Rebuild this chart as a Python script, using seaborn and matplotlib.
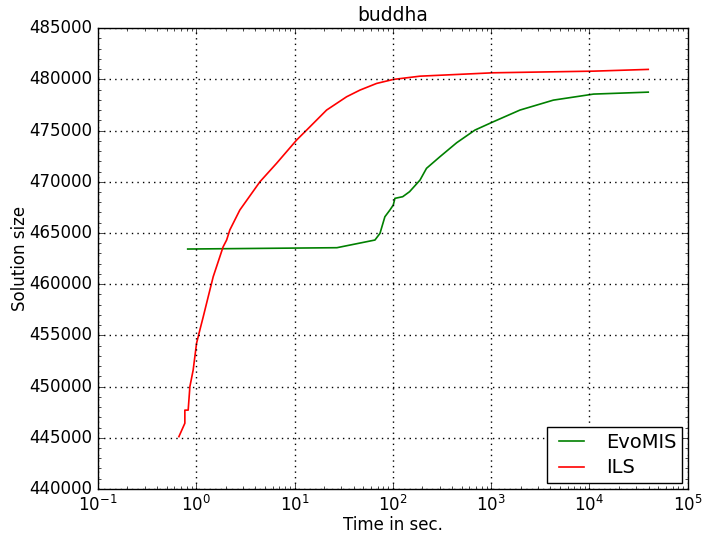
import matplotlib
matplotlib.use("Agg")
import matplotlib.pyplot as plt
import seaborn as sns
import pandas as pd

# Time (seconds) and solution size for each algorithm
evomis_time = [0.82, 27, 65.8, 74, 83, 93.4, 101, 105, 126, 148, 189, 220, 301, 446,
               684, 1050, 1963, 4290, 11000, 39600]
evomis_size = [463430, 463560, 464310, 464960, 466580, 467240, 467725, 468380, 468540,
               469030, 470165, 471310, 472440, 473810, 475045, 475855, 477000, 477970,
               478560, 478750]

ils_time = [0.667, 0.767, 0.767, 0.829, 0.863, 0.932, 1.009, 1.09, 1.18, 1.325, 1.49,
            1.61, 1.88, 2.04, 2.2, 2.78, 4.45, 6.57, 10.5, 13.3, 21.2, 33.9, 46.3, 68.4,
            101, 189, 1050, 11000, 39600]
ils_size = [445110, 446420, 447700, 447700, 450000, 451620, 454230, 455525, 456820,
            458770, 460730, 461700, 463650, 464310, 465300, 467240, 470000, 471800,
            474070, 475050, 477000, 478300, 478950, 479600, 479990, 480310, 480640,
            480800, 480970]

df = pd.concat([
    pd.DataFrame({"time": evomis_time, "size": evomis_size, "algo": "EvoMIS"}),
    pd.DataFrame({"time": ils_time, "size": ils_size, "algo": "ILS"}),
], ignore_index=True)

plt.style.use("classic")
fig = plt.figure(figsize=(7.04, 5.39), dpi=100, facecolor="white")
ax = fig.add_axes([0.139, 0.0928, 0.838, 0.855])
ax.set_xscale("log")

sns.lineplot(data=df, x="time", y="size", hue="algo",
             palette={"EvoMIS": "g", "ILS": "r"}, estimator=None, sort=False,
             linewidth=1.2, ax=ax)

ax.set_xlim(0.1, 1e5)
ax.set_ylim(440000, 485000)
ax.yaxis.set_major_locator(matplotlib.ticker.MultipleLocator(5000))
ax.yaxis.set_minor_locator(matplotlib.ticker.MultipleLocator(1000))
ax.yaxis.set_major_formatter(matplotlib.ticker.FormatStrFormatter("%d"))
ax.grid(True, which="major", linestyle=":", color="black", linewidth=1.0)

ax.set_title("buddha", fontsize=13.5)
ax.set_xlabel("Time in sec.", fontsize=12, labelpad=1)
ax.set_ylabel("Solution size", fontsize=12, labelpad=0)

handles, labels = ax.get_legend_handles_labels()
ax.legend(handles, labels, loc="lower right", fontsize=14, fancybox=False,
          frameon=True, borderaxespad=0.3, borderpad=0.3, handlelength=1.9,
          labelspacing=0.35)

fig.savefig("out.png", dpi=100, facecolor="white")
